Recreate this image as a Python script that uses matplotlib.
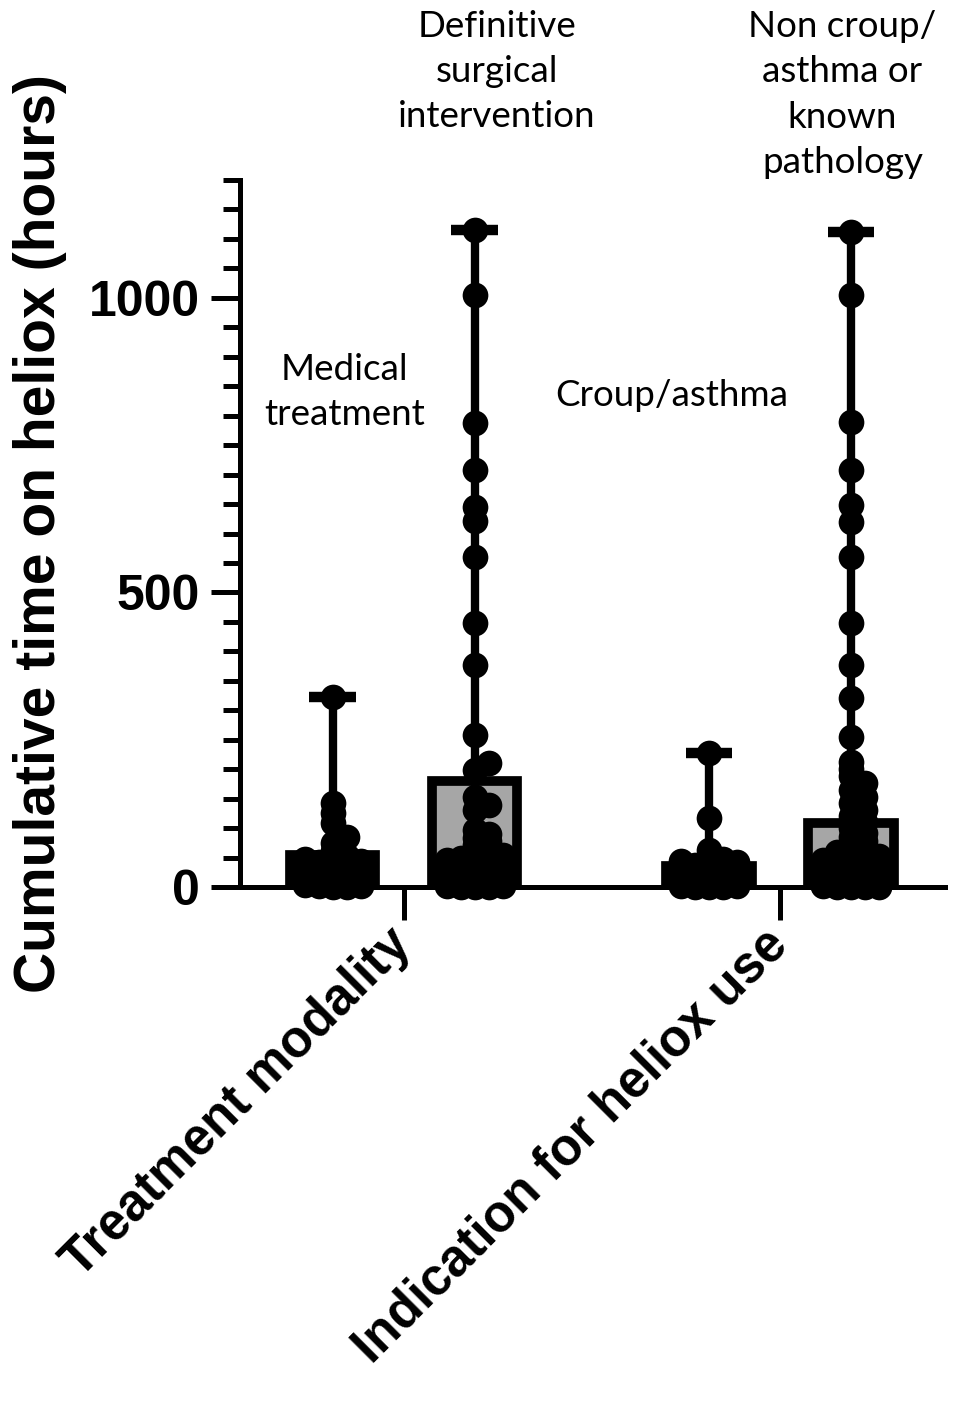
import numpy as np
import matplotlib.pyplot as plt
from matplotlib.ticker import MultipleLocator

plt.rcParams['font.family'] = ['Liberation Sans', 'DejaVu Sans']

# group labels written over the bars
group_names = ["Medical\ntreatment", "Definitive\nsurgical\nintervention",
               "Croup/asthma", "Non croup/\nasthma or\nknown\npathology"]
axis_groups = ["Treatment modality", "Indication for heliox use"]

# bar heights (mean), hours
bar_means = [54, 180, 35, 109]

# individual patients, hours
medical = [323, 143, 126, 109, 85, 75, 62, 52, 50, 48, 45, 42, 40, 38, 35, 32,
           30, 28, 25, 22, 20, 18, 15, 12, 10, 8, 6, 5, 4, 3, 2, 1, 0, 0]
surgical = [1115, 1005, 788, 708, 645, 622, 560, 448, 377, 258, 210, 199, 153,
            140, 131, 97, 90, 84, 78, 72, 66, 60, 55, 50, 48, 46, 44, 42, 40,
            38, 36, 33, 30, 28, 26, 24, 22, 20, 18, 16, 14, 12, 10, 8, 6, 5,
            4, 3, 2, 1, 0, 0, 0]
croup = [227, 117, 63, 48, 45, 42, 40, 38, 36, 34, 32, 30, 28, 26, 24, 22, 20,
         18, 16, 14, 12, 10, 8, 6, 5, 4, 3, 2, 1, 0, 0, 0]
non_croup = [1112, 1005, 789, 708, 648, 620, 560, 448, 377, 321, 255, 212, 200,
             188, 176, 165, 153, 143, 131, 120, 110, 100, 92, 85, 78, 72, 66,
             60, 55, 52, 50, 48, 46, 44, 42, 40, 39, 38, 36, 35, 34, 32, 30,
             29, 28, 26, 25, 24, 22, 21, 20, 18, 17, 16, 15, 14, 13, 12, 11,
             10, 9, 8, 7, 6, 5, 4, 3, 3, 2, 2, 1, 1, 0, 0, 0, 0]
groups = [medical, surgical, croup, non_croup]

positions = [0, 1, 2.65, 3.65]
group_ticks = [0.5, 3.15]
bar_width = 0.6


def swarm(values, sy, dot=26.0, half=36.0):
    # spread points sideways only when they sit at nearly the same height
    placed = []
    offs = np.zeros(len(values))
    cands = [0.0]
    for d in np.arange(2.0, half + 0.1, 2.0):
        cands += [d, -d]
    for i in np.argsort(values, kind='stable'):
        y = values[i] * sy
        best, best_n = 0.0, None
        for c in cands:
            n = sum(1 for px, py in placed
                    if abs(py - y) < 0.25 * dot and abs(px - c) < 0.5 * dot)
            if n == 0:
                best = c
                break
            if best_n is None or n < best_n:
                best, best_n = c, n
        offs[i] = best
        placed.append((best, y))
    return offs


fig = plt.figure(figsize=(9.63, 14.17), dpi=100)
ax = fig.add_axes([0.249, 0.374, 0.732, 0.499])
ax.set_xlim(-0.655, 4.31)
ax.set_ylim(0, 1200)

sx = ax.transData.transform((1, 0))[0] - ax.transData.transform((0, 0))[0]
sy = ax.transData.transform((0, 1))[1] - ax.transData.transform((0, 0))[1]

ax.bar(positions, bar_means, width=bar_width, color='#a6a6a6',
       edgecolor='black', linewidth=7, zorder=2)

for pos, vals in zip(positions, groups):
    vals = np.array(vals, dtype=float)
    ax.vlines(pos, vals.min(), vals.max(), color='black', linewidth=6, zorder=3)
    ax.hlines(vals.max(), pos - 0.165, pos + 0.165, color='black',
              linewidth=7.5, zorder=3)
    xo = swarm(vals, sy) / sx
    ax.plot(pos + xo, vals, 'o', color='black', markersize=18.5,
            markeredgewidth=0, zorder=4, clip_on=False)

for sp in ['top', 'right']:
    ax.spines[sp].set_visible(False)
for sp in ['left', 'bottom']:
    ax.spines[sp].set_linewidth(3.6)

ax.yaxis.set_major_locator(MultipleLocator(500))
ax.yaxis.set_minor_locator(MultipleLocator(50))
ax.tick_params(axis='y', which='major', length=21, width=3.6, pad=8,
               labelsize=36)
ax.tick_params(axis='y', which='minor', length=12, width=3.6)
for t in ax.get_yticklabels():
    t.set_fontweight('bold')

ax.set_xticks(group_ticks)
ax.set_xticklabels(axis_groups, rotation=45, ha='right', va='center',
                   rotation_mode='anchor', fontsize=37, fontweight='bold')
ax.tick_params(axis='x', length=24, width=3.6, pad=12)

ax.set_ylabel("Cumulative time on heliox (hours)", fontsize=41,
              fontweight='bold', va='center')
ax.yaxis.set_label_coords(-0.284, 0.5)

label_pos = [(0.085, 840), (1.155, 1384), (2.39, 835), (3.59, 1345)]
for (lx, ly), name in zip(label_pos, group_names):
    ax.text(lx, ly, name, ha='center', va='center', fontsize=26.5,
            family=['Lato', 'DejaVu Sans'], linespacing=1.45, clip_on=False)

fig.savefig("out.png", dpi=100)
